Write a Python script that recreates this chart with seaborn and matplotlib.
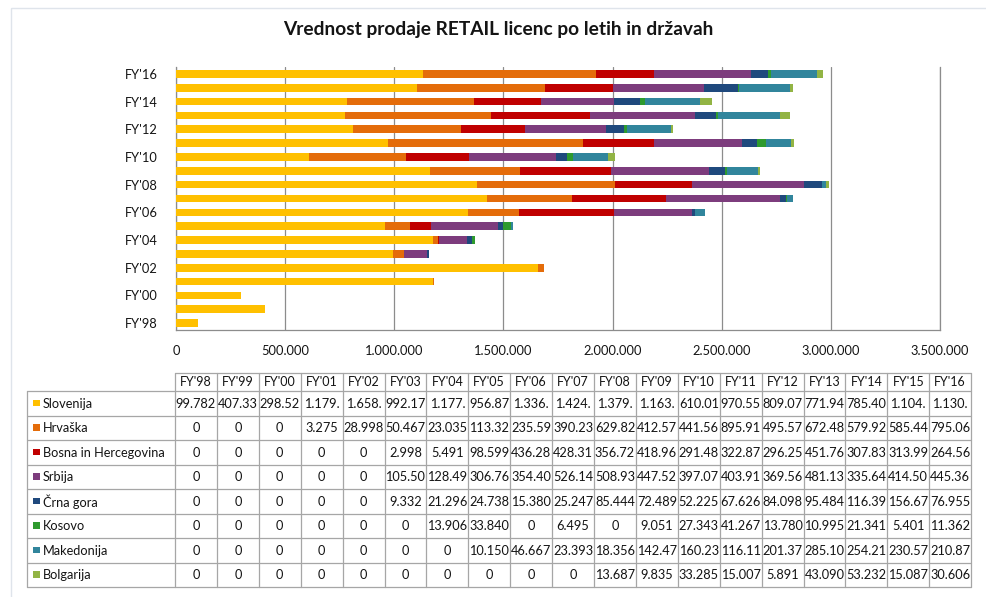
import numpy as np
import pandas as pd
import matplotlib
matplotlib.use("Agg")
import matplotlib.pyplot as plt
import seaborn as sns
from matplotlib.ticker import FuncFormatter
from matplotlib.patches import Rectangle

# ---------------- data ----------------
years = ["FY'98", "FY'99", "FY'00", "FY'01", "FY'02", "FY'03", "FY'04", "FY'05", "FY'06",
         "FY'07", "FY'08", "FY'09", "FY'10", "FY'11", "FY'12", "FY'13", "FY'14", "FY'15", "FY'16"]
countries = ["Slovenija", "Hrvaška", "Bosna in Hercegovina", "Srbija", "Črna gora",
             "Kosovo", "Makedonija", "Bolgarija"]
colors = ["#FFC000", "#E46C0A", "#C00000", "#7D3C7D", "#1F497D", "#2E9A2E", "#31859C", "#92B444"]

slovenija = [99782, 407335, 298525, 1179500, 1658500, 992175, 1177500, 956875, 1336500, 1424500,
             1379500, 1163500, 610015, 970555, 809075, 771945, 785405, 1104500, 1130500]
hrvaska = [0, 0, 0, 3275, 28998, 50467, 23035, 113325, 235595, 390235, 629825, 412575, 441565,
           895915, 495575, 672485, 579925, 585445, 795065]
bosna = [0, 0, 0, 0, 0, 2998, 5491, 98599, 436285, 428315, 356725, 418965, 291485, 322875,
         296255, 451765, 307835, 313995, 264565]
srbija = [0, 0, 0, 0, 0, 105505, 128495, 306765, 354405, 526145, 508935, 447525, 397075, 403915,
          369565, 481135, 335645, 414505, 445365]
crna_gora = [0, 0, 0, 0, 0, 9332, 21296, 24738, 15380, 25247, 85444, 72489, 52225, 67626, 84098,
             95484, 116395, 156675, 76955]
kosovo = [0, 0, 0, 0, 0, 0, 13906, 33840, 0, 6495, 0, 9051, 27343, 41267, 13780, 10995, 21341,
          5401, 11362]
makedonija = [0, 0, 0, 0, 0, 0, 0, 10150, 46667, 23393, 18356, 142475, 160235, 116115, 201375,
              285105, 254215, 230575, 210875]
bolgarija = [0, 0, 0, 0, 0, 0, 0, 0, 0, 0, 13687, 9835, 33285, 15007, 5891, 43090, 53232, 15087,
             30606]

series = [slovenija, hrvaska, bosna, srbija, crna_gora, kosovo, makedonija, bolgarija]
title = "Vrednost prodaje RETAIL licenc po letih in državah"
xticks = [0, 500000, 1000000, 1500000, 2000000, 2500000, 3000000, 3500000]

# ---------------- style ----------------
sns.set_theme(style="white")
plt.rcParams["font.family"] = ["Lato", "DejaVu Sans"]
TXT = "#141414"
GRID = "#8C8C8C"
TBL = "#A6A6A6"

W, H = 986, 597
fig = plt.figure(figsize=(W / 100, H / 100), dpi=100)
fig.patch.set_facecolor("white")

def fx(px):
    return px / W

def fy(py):
    return 1 - py / H

# ---------------- chart ----------------
ax_l, ax_r, ax_t, ax_b = 176, 940, 67, 330
ax = fig.add_axes([fx(ax_l), fy(ax_b), fx(ax_r - ax_l), (ax_b - ax_t) / H])

order = years[::-1]
df = pd.DataFrame({c: v for c, v in zip(countries, series)}, index=years)
cum = df.cumsum(axis=1)
for i in range(len(countries) - 1, -1, -1):
    sns.barplot(x=cum[countries[i]].values, y=years, order=order, orient="h",
                color=colors[i], saturation=1, width=0.55, linewidth=0, ax=ax, zorder=3)

ax.set_xlim(0, 3500000)
ax.set_ylim(len(years) - 0.5, -0.5)
ax.set_xticks(xticks)
ax.xaxis.set_major_formatter(FuncFormatter(lambda v, p: "0" if v == 0 else f"{int(v):,}".replace(",", ".")))
ax.set_yticks(range(0, len(years), 2))
ax.set_yticklabels(order[::2])
ax.set_yticks(np.arange(-0.5, len(years), 1), minor=True)
ax.tick_params(axis="x", length=0, pad=11, labelsize=9.3, labelcolor=TXT)
ax.tick_params(axis="y", which="major", length=0, pad=13, labelsize=9.3, labelcolor=TXT)
ax.tick_params(axis="y", which="minor", length=4, direction="in", color=GRID, width=0.9)
ax.set_xlabel("")
ax.set_ylabel("")
ax.grid(axis="x", color=GRID, linewidth=0.9, zorder=0)
ax.set_axisbelow(True)
ax.spines["top"].set_visible(False)
for s in ["left", "bottom", "right"]:
    ax.spines[s].set_color(GRID)
    ax.spines[s].set_linewidth(0.9)
ax.spines["right"].set_zorder(0)

fig.text(fx(498), fy(30), title, ha="center", va="center", fontsize=13.8,
         fontweight="bold", color=TXT)

# ---------------- data table ----------------
ov = fig.add_axes([0, 0, 1, 1])
ov.set_xlim(0, W)
ov.set_ylim(H, 0)
ov.axis("off")
ov.patch.set_visible(False)

# light outer frame
ov.add_patch(Rectangle((11, 8), 990, 600, fill=False, edgecolor="#DFE4EB", linewidth=1.0))

x0, cw = 175, 41.9
xl = 27
h_top, h_bot = 373, 391
rh = 24.5
n = len(years)
x_end = x0 + n * cw
y_end = h_bot + rh * len(countries)

def disp(v):
    if v == 0:
        return "0"
    return f"{int(v):,}".replace(",", ".")[:6]

lw = 0.9
ov.plot([x0, x_end], [h_top, h_top], color=TBL, lw=lw)
for r in range(len(countries) + 1):
    y = h_bot + r * rh
    ov.plot([xl, x_end], [y, y], color=TBL, lw=lw)
ov.plot([xl, xl], [h_bot, y_end], color=TBL, lw=lw)
for j in range(n + 1):
    x = x0 + j * cw
    ov.plot([x, x], [h_top, y_end], color=TBL, lw=lw)

for j, yr in enumerate(years):
    ov.text(x0 + (j + 0.5) * cw, (h_top + h_bot) / 2 + 0.5, yr, ha="center", va="center",
            fontsize=9, color=TXT)

for r, (c, col, vals) in enumerate(zip(countries, colors, series)):
    yc = h_bot + (r + 0.5) * rh
    ov.add_patch(Rectangle((33, yc - 3.5), 6.5, 6.5, facecolor=col, edgecolor="none"))
    ov.text(43, yc + 0.5, c, ha="left", va="center", fontsize=9.2, color=TXT)
    for j, v in enumerate(vals):
        ov.text(x0 + (j + 0.5) * cw, yc + 0.5, disp(v), ha="center", va="center",
                fontsize=9.2, color=TXT)

fig.savefig("out.png", dpi=100, facecolor="white")
